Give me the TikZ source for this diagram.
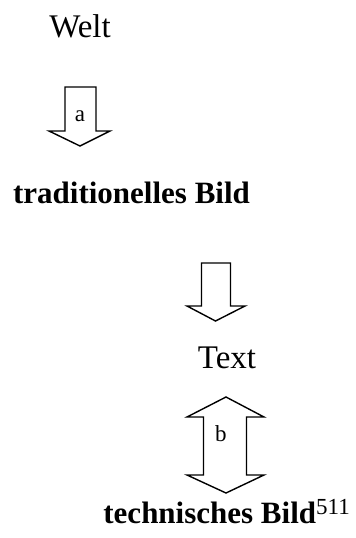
\documentclass[tikz,border=0pt]{standalone}
\usepackage{fontspec}
\setmainfont{Liberation Serif}
\newcommand{\supnum}[1]{\raisebox{4.5pt}{\fontsize{11.5}{13}\selectfont\mdseries #1}}
\begin{document}
\begin{tikzpicture}[x=0.5pt,y=-0.5pt,
  word/.style={anchor=base,inner sep=0pt,font=\fontsize{16.5}{19}\selectfont},
  bigword/.style={anchor=base,inner sep=0pt,font=\fontsize{15.5}{18}\selectfont\bfseries},
  tag/.style={inner sep=0pt,font=\fontsize{11.5}{13}\selectfont},
  hollow/.style={draw=black,line width=0.7pt,fill=white,line join=miter}]
\useasboundingbox (0,0) rectangle (356,538);

% captions
\node[word] (welt) at (80,37) {Welt};
\node[bigword] (trad) at (131.5,203) {traditionelles Bild};
\node[word] (text) at (227,368) {Text};
\node[bigword,anchor=base west] (tech) at (103,523) {technisches Bild\supnum{511}};

% arrow a: world -> traditional picture
\draw[hollow] (65,87) -- (96,87) -- (96,131) -- (110,131) -- (80,146)
  -- (49,131) -- (65,131) -- cycle;
\node[tag] (a) at (80,116) {a};

% arrow from traditional picture to text
\draw[hollow] (201.5,263) -- (230.5,263) -- (230.5,306) -- (245,306) -- (215.5,321)
  -- (187,306) -- (201.5,306) -- cycle;

% arrow b: text <-> technical picture
\draw[hollow] (226,397) -- (264,417) -- (246.5,417) -- (246.5,475) -- (264,475)
  -- (226,493) -- (187,475) -- (203.5,475) -- (203.5,417) -- (187,417) -- cycle;
\node[tag] (b) at (221,434) {b};
\end{tikzpicture}
\end{document}
